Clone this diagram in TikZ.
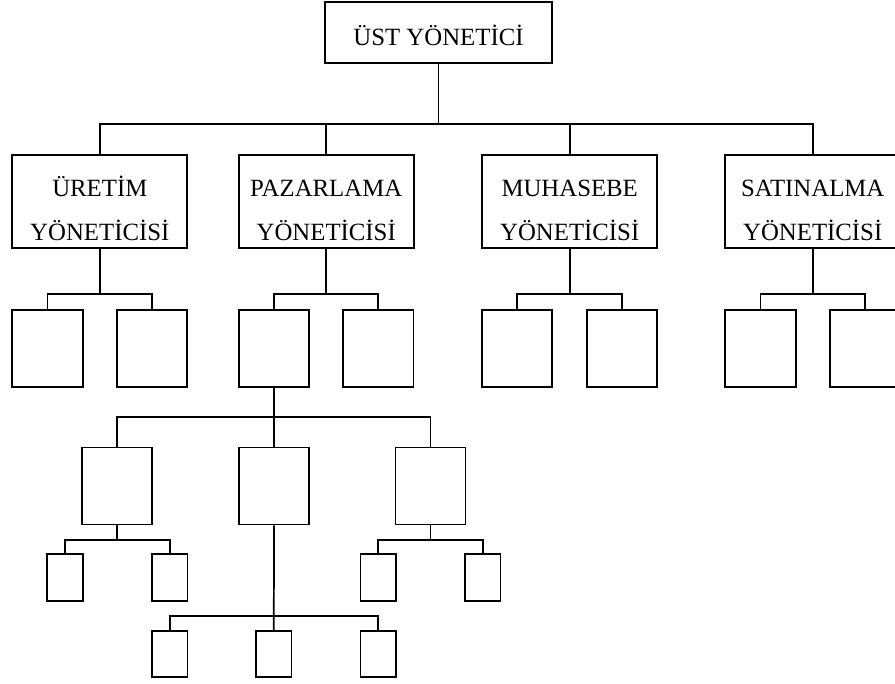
\documentclass[tikz,border=0pt]{standalone}
\usepackage{fontspec}
\setmainfont{Liberation Serif}
\begin{document}
\begin{tikzpicture}[x=0.75pt,y=-0.75pt,
  every node/.style={inner sep=0pt},
  topbox/.style={draw,line width=1.5pt,minimum width=170.25pt,minimum height=45.75pt},
  mgrbox/.style={draw,line width=1.5pt,minimum width=131.25pt,minimum height=69.75pt},
  subbox/.style={draw,line width=1.3pt,minimum width=52.9pt,minimum height=57.5pt},
  midbox/.style={draw,line width=1.3pt,minimum width=52.5pt,minimum height=57.75pt},
  smallbox/.style={draw,line width=1.3pt,minimum width=26.5pt,minimum height=34.8pt},
  lbl/.style={anchor=base,font=\fontsize{18.6}{22}\selectfont},
  link/.style={line width=1.3pt}]
\useasboundingbox (0,0) rectangle (895,683);
\clip (0,0) rectangle (895,683);

% top manager
\node[topbox] (top) at (438.5,32.5) {};
\node[lbl] (topt) at (438.5,45) {ÜST YÖNETİCİ};

% department managers
\node[mgrbox] (uret) at (99.8,201.5) {};
\node[mgrbox] (pazar) at (326.2,201.5) {};
\node[mgrbox] (muh) at (569.7,201.5) {};
\node[mgrbox] (sat) at (812.7,201.5) {};
\node[lbl] (uret1) at (99.8,196) {ÜRETİM};
\node[lbl] (uret2) at (99.8,240) {YÖNETİCİSİ};
\node[lbl] (pazar1) at (326.2,196) {PAZARLAMA};
\node[lbl] (pazar2) at (326.2,240) {YÖNETİCİSİ};
\node[lbl] (muh1) at (569.7,196) {MUHASEBE};
\node[lbl] (muh2) at (569.7,240) {YÖNETİCİSİ};
\node[lbl] (sat1) at (812.7,196) {SATINALMA};
\node[lbl] (sat2) at (812.7,240) {YÖNETİCİSİ};

% second level units
\node[subbox] (u1) at (47.5,348.3) {};
\node[subbox] (u2) at (152,348.3) {};
\node[subbox] (p1) at (274,348.3) {};
\node[subbox] (p2) at (378.3,348.3) {};
\node[subbox] (m1) at (517,348.3) {};
\node[subbox] (m2) at (622,348.3) {};
\node[subbox] (s1) at (760.5,348.3) {};
\node[subbox] (s2) at (865,348.3) {};

% third level under the first marketing unit
\node[midbox] (q1) at (117.3,486) {};
\node[midbox] (q2) at (274,486) {};
\node[midbox] (q3) at (430.5,486) {};

% fourth level
\node[smallbox] (a1) at (65,577.5) {};
\node[smallbox] (a2) at (169.7,577.5) {};
\node[smallbox] (c1) at (378.2,577.5) {};
\node[smallbox] (c2) at (482.7,577.5) {};
\node[smallbox] (b1) at (169.7,654) {};
\node[smallbox] (b2) at (273.8,654) {};
\node[smallbox] (b3) at (378.2,654) {};

% bus levels
\coordinate (topbar) at (448,124);
\coordinate (ubar) at (99.8,294);
\coordinate (pbar) at (326.2,294);
\coordinate (mbar) at (569.7,294);
\coordinate (sbar) at (812.7,294);
\coordinate (qbar) at (274,417.3);
\coordinate (abar) at (117.3,540);
\coordinate (cbar) at (430.5,540);
\coordinate (bbar) at (273.8,616);

% connectors
\draw[link] (top.south) -- (top.south |- topbar);
\draw[link] (uret.north) |- (topbar) -| (sat.north);
\draw[link] (pazar.north) -- (pazar.north |- topbar);
\draw[link] (muh.north) -- (muh.north |- topbar);

\draw[link] (uret.south) -- (ubar);
\draw[link] (u1.north) |- (ubar) -| (u2.north);
\draw[link] (pazar.south) -- (pbar);
\draw[link] (p1.north) |- (pbar) -| (p2.north);
\draw[link] (muh.south) -- (mbar);
\draw[link] (m1.north) |- (mbar) -| (m2.north);
\draw[link] (sat.south) -- (sbar);
\draw[link] (s1.north) |- (sbar) -| (s2.north);

\draw[link] (p1.south) -- (q2.north);
\draw[link] (q1.north) |- (qbar) -| (q3.north);

\draw[link] (q1.south) -- (abar);
\draw[link] (a1.north) |- (abar) -| (a2.north);
\draw[link] (q3.south) -- (cbar);
\draw[link] (c1.north) |- (cbar) -| (c2.north);
\draw[link] (q2.south) -- (b2.north);
\draw[link] (b1.north) |- (bbar) -| (b3.north);
\end{tikzpicture}
\end{document}
